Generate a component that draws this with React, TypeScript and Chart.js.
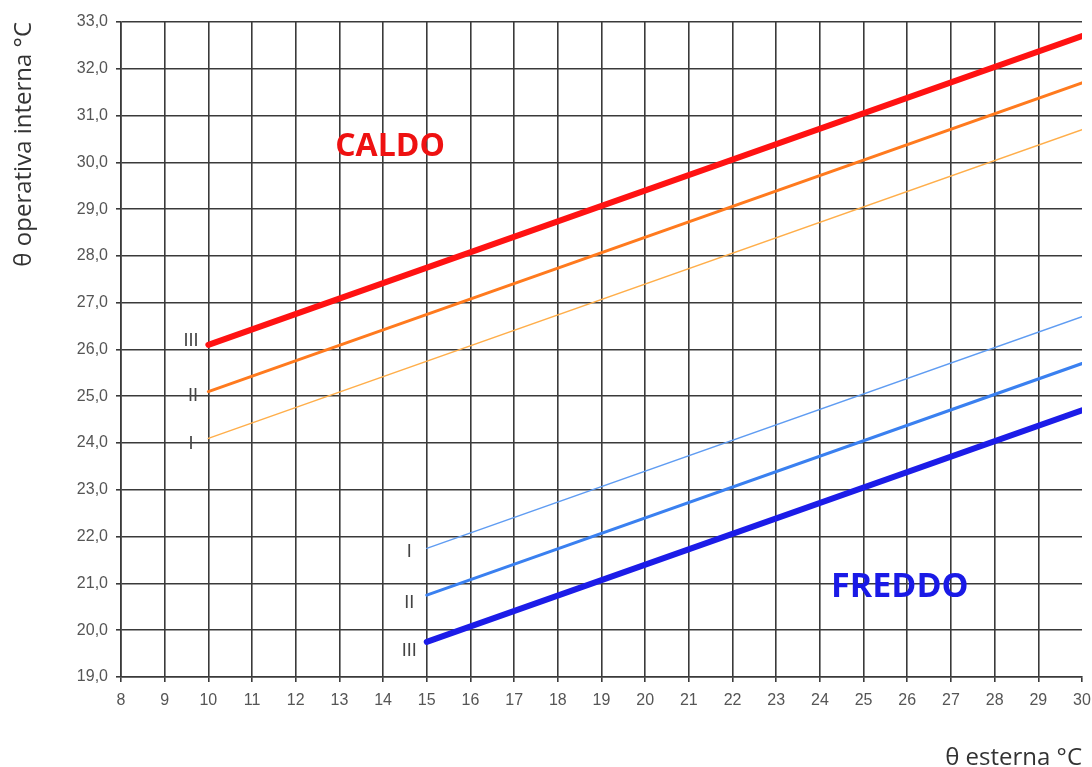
import React, { useEffect, useRef } from "react";
import { Chart, registerables } from "chart.js";

Chart.register(...registerables);

// ---- data ----
const xTicks: number[] = [8, 9, 10, 11, 12, 13, 14, 15, 16, 17, 18, 19, 20, 21, 22, 23, 24, 25, 26, 27, 28, 29, 30];
const yTicks: number[] = [19, 20, 21, 22, 23, 24, 25, 26, 27, 28, 29, 30, 31, 32, 33];

const caldoX: number[] = [10, 30];
const caldoIII: number[] = [26.1, 32.7];
const caldoII: number[] = [25.1, 31.7];
const caldoI: number[] = [24.1, 30.7];

const freddoX: number[] = [15, 30];
const freddoI: number[] = [21.75, 26.7];
const freddoII: number[] = [20.75, 25.7];
const freddoIII: number[] = [19.75, 24.7];

const seriesNames: string[] = ["Caldo III", "Caldo II", "Caldo I", "Freddo I", "Freddo II", "Freddo III"];

// annotation texts (data coordinates)
const annoTexts: string[] = ["CALDO", "FREDDO", "III", "II", "I", "I", "II", "III"];
const annoX: number[] = [14.16, 25.83, 9.6, 9.65, 9.6, 14.6, 14.6, 14.6];
const annoY: number[] = [30.33, 20.91, 26.18, 25.0, 23.98, 21.68, 20.59, 19.56];

const toPts = (xs: number[], ys: number[]) => xs.map((x, i) => ({ x, y: ys[i] }));

export default function App() {
  const ref = useRef<HTMLCanvasElement | null>(null);

  useEffect(() => {
    if (!ref.current) return;

    const annoPlugin = {
      id: "annoText",
      afterDatasetsDraw(chart: any) {
        const { ctx, scales } = chart;
        const xs = scales.x;
        const ys = scales.y;
        ctx.save();
        ctx.textAlign = "center";
        ctx.textBaseline = "middle";
        annoTexts.forEach((t, i) => {
          const px = xs.getPixelForValue(annoX[i]);
          const py = ys.getPixelForValue(annoY[i]);
          if (t === "CALDO") {
            ctx.font = "bold 32px 'Open Sans'";
            ctx.fillStyle = "#ee1111";
          } else if (t === "FREDDO") {
            ctx.font = "bold 34px 'Open Sans'";
            ctx.fillStyle = "#1a1ae6";
          } else {
            ctx.font = "18px 'Liberation Sans'";
            ctx.fillStyle = "#444444";
          }
          ctx.fillText(t, px, py);
        });
        ctx.restore();
      },
    };

    const chart = new Chart(ref.current, {
      type: "scatter",
      data: {
        datasets: [
          { label: seriesNames[0], data: toPts(caldoX, caldoIII), borderColor: "#ff1212", borderWidth: 6 },
          { label: seriesNames[1], data: toPts(caldoX, caldoII), borderColor: "#ff7a1e", borderWidth: 3 },
          { label: seriesNames[2], data: toPts(caldoX, caldoI), borderColor: "#ffae4a", borderWidth: 1.5 },
          { label: seriesNames[3], data: toPts(freddoX, freddoI), borderColor: "#5f9cf2", borderWidth: 1.5 },
          { label: seriesNames[4], data: toPts(freddoX, freddoII), borderColor: "#3a80f0", borderWidth: 3 },
          { label: seriesNames[5], data: toPts(freddoX, freddoIII), borderColor: "#1c1ce8", borderWidth: 6 },
        ].map((d) => ({ ...d, showLine: true, pointRadius: 0, borderCapStyle: "round", fill: false })) as any,
      },
      options: {
        animation: false,
        responsive: false,
        maintainAspectRatio: false,
        layout: { padding: { top: 22, right: 0, left: 0, bottom: 0 } },
        plugins: {
          legend: { display: false },
          tooltip: { enabled: false },
        },
        scales: {
          x: {
            type: "linear",
            min: 8,
            max: 30,
            afterBuildTicks: (scale: any) => {
              scale.ticks = xTicks.map((v) => ({ value: v }));
            },
            afterFit: (scale: any) => {
              scale.height = 90;
              scale.paddingRight = 10;
            },
            ticks: {
              color: "#555555",
              font: { family: "'Liberation Sans'", size: 16 },
              padding: 9,
              maxRotation: 0,
              autoSkip: false,
              callback: (v: any) => String(v),
            },
            grid: {
              color: (c: any) => (c.tick && c.tick.value === 30 ? "rgba(0,0,0,0)" : "#3a3a3a"),
              tickColor: "#3a3a3a",
              lineWidth: 1.6,
              tickLength: 5,
            },
            border: { color: "#3a3a3a", width: 1.6 },
            title: {
              display: true,
              text: "θ esterna °C",
              align: "end",
              color: "#333333",
              font: { family: "'Open Sans'", size: 24, lineHeight: 0.7 },
              padding: { top: 0, bottom: 0 },
            },
          },
          y: {
            type: "linear",
            min: 19,
            max: 33,
            afterBuildTicks: (scale: any) => {
              scale.ticks = yTicks.map((v) => ({ value: v }));
            },
            afterFit: (scale: any) => {
              scale.width = 121;
            },
            ticks: {
              color: "#555555",
              font: { family: "'Liberation Sans'", size: 16 },
              padding: 8,
              autoSkip: false,
              callback: (v: any) => Number(v).toFixed(1).replace(".", ","),
            },
            grid: {
              color: "#3a3a3a",
              tickColor: "#3a3a3a",
              lineWidth: 1.6,
              tickLength: 5,
            },
            border: { color: "#3a3a3a", width: 1.6 },
            title: {
              display: true,
              text: "θ operativa interna °C",
              align: "end",
              color: "#333333",
              font: { family: "'Open Sans'", size: 24, lineHeight: 1.2 },
              padding: { top: 10, bottom: 0 },
            },
          },
        },
      },
      plugins: [annoPlugin],
    } as any);

    return () => chart.destroy();
  }, []);

  return (
    <div style={{ position: "fixed", left: 0, top: 0, width: 1092, height: 767, background: "#ffffff" }}>
      <canvas ref={ref} width={1092} height={767} style={{ display: "block", width: 1092, height: 767 }} />
    </div>
  );
}
